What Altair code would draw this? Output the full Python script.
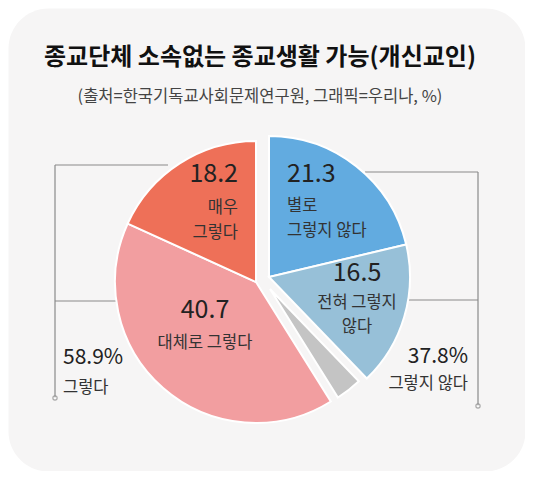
import altair as alt
import pandas as pd

# ---- data ----
categories = ["별로 그렇지 않다", "전혀 그렇지 않다", "무응답", "대체로 그렇다", "매우 그렇다"]
values = [21.3, 16.5, 3.3, 40.7, 18.2]
colors = ["#62abe0", "#97c0d8", "#c4c4c4", "#f29ea0", "#ee7058"]
groups = ["right", "right", "gray", "left", "left"]
label_lines = [["별로", "그렇지 않다"], ["전혀 그렇지", "않다"], [], ["대체로 그렇다"], ["매우", "그렇다"]]
summary_values = [58.9, 37.8]
summary_labels = ["그렇다", "그렇지 않다"]
title_text = "종교단체 소속없는 종교생활 가능(개신교인)"
subtitle_text = "(출처=한국기독교사회문제연구원, 그래픽=우리나, %)"

FONT = "Noto Sans CJK KR"
W, H = 517, 463
LINE = "#8a8a8a"
NUM = 25
LBL = 16.5

df = pd.DataFrame({"category": categories, "value": values, "group": groups,
                   "order": list(range(len(categories)))})
total = sum(values)

base = alt.Chart(df).transform_window(
    cum="sum(value)", sort=[alt.SortField("order")], frame=[None, 0]
).transform_calculate(start="datum.cum - datum.value")

theta_scale = alt.Scale(domain=[0, total])
color_scale = alt.Scale(domain=categories, range=colors)


def arcs(group, cx, cy, r):
    return base.transform_filter(
        alt.FieldOneOfPredicate(field="group", oneOf=[group])
    ).mark_arc(radius=r, stroke="white", strokeWidth=2).encode(
        theta=alt.Theta("start:Q", scale=theta_scale),
        theta2="cum:Q",
        color=alt.Color("category:N", scale=color_scale, legend=None),
        x=alt.value(cx), y=alt.value(cy),
    )


dummy = alt.Data(values=[{"a": 1}])


def txt(s, x, y, size, align="left", color="#222222", weight=400):
    return alt.Chart(dummy).mark_text(
        font=FONT, fontSize=size, align=align, baseline="middle",
        color=color, fontWeight=weight,
    ).encode(x=alt.value(x), y=alt.value(y), text=alt.value(s))


def hrule(x1, x2, y):
    return alt.Chart(dummy).mark_rule(color=LINE, strokeWidth=1.2).encode(
        x=alt.value(x1), x2=alt.value(x2), y=alt.value(y))


def vrule(x, y1, y2):
    return alt.Chart(dummy).mark_rule(color=LINE, strokeWidth=1.2).encode(
        x=alt.value(x), y=alt.value(y1), y2=alt.value(y2))


def dot(x, y):
    return alt.Chart(dummy).mark_point(
        shape="circle", size=18, filled=True, fill="white", stroke=LINE, strokeWidth=1.2
    ).encode(x=alt.value(x), y=alt.value(y))


layers = [
    # brackets
    vrule(47, 157, 390), hrule(47, 160, 157), hrule(47, 120, 293),
    vrule(470, 164, 398), hrule(357, 470, 164), hrule(395, 470, 292),
    # pie
    arcs("left", 248, 274, 141),
    arcs("right", 261, 269, 141),
    arcs("gray", 262, 281, 128),
    dot(47, 390), dot(470, 398),
    # title
    txt(title_text, 252, 50, 24, "center", "#111111", 700),
    txt(subtitle_text, 252, 89, 16.5, "center", "#444444"),
    # slice labels
    txt(f"{values[4]}", 230, 166, NUM, "right"),
    txt(label_lines[4][0], 230, 200, LBL, "right", "#333333"),
    txt(label_lines[4][1], 230, 225, LBL, "right", "#333333"),
    txt(f"{values[0]}", 279, 166, NUM, "left"),
    txt(label_lines[0][0], 279, 198, LBL, "left", "#333333"),
    txt(label_lines[0][1], 279, 223, LBL, "left", "#333333"),
    txt(f"{values[1]}", 349, 265, NUM, "center"),
    txt(label_lines[1][0], 349, 295, LBL, "center", "#333333"),
    txt(label_lines[1][1], 349, 319, LBL, "center", "#333333"),
    txt(f"{values[3]}", 197, 302, NUM, "center"),
    txt(label_lines[3][0], 197, 335, LBL, "center", "#333333"),
    # summaries
    txt(f"{summary_values[0]}%", 55, 350, 21, "left"),
    txt(summary_labels[0], 55, 380, 16.5, "left", "#333333"),
    txt(f"{summary_values[1]}%", 460, 349, 21, "right"),
    txt(summary_labels[1], 460, 376, 16.5, "right", "#333333"),
]

chart = alt.layer(*layers).properties(
    width=W, height=H, padding=0, autosize="none", background="white"
).configure_view(fill="#f6f5f5", stroke="transparent", cornerRadius=40)

chart.save("out.html", embed_options={"renderer": "svg", "actions": False})
